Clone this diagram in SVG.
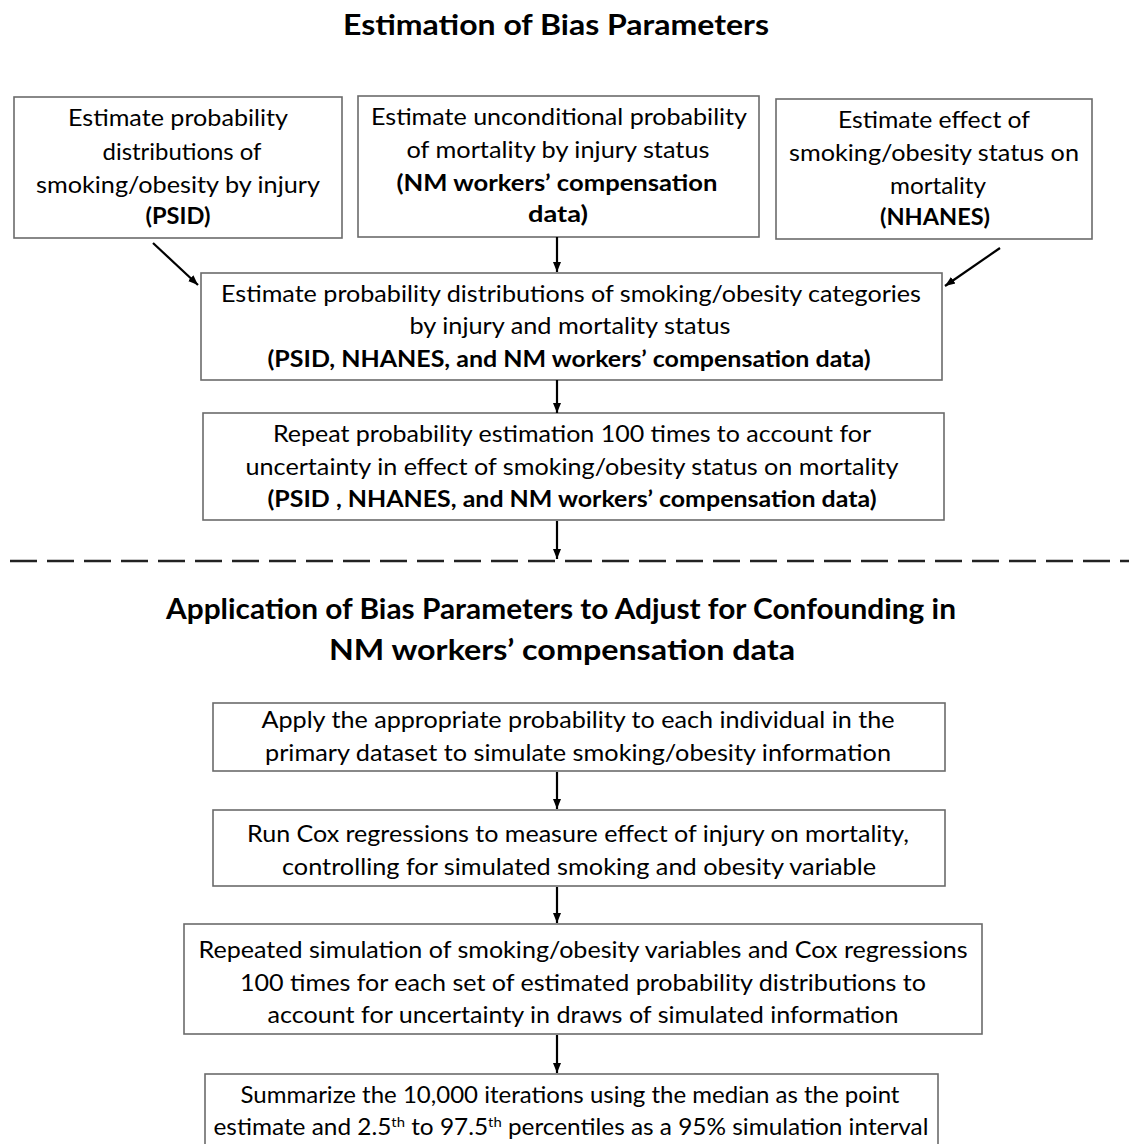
<svg xmlns="http://www.w3.org/2000/svg" width="1129" height="1144" viewBox="0 0 1129 1144">
<style>
.box{fill:#fff;stroke:#6b6b6b;stroke-width:1.6}
.t{font-family:Lato,"Open Sans","Liberation Sans",sans-serif;font-size:23px;fill:#000;text-anchor:middle}
.b{font-weight:bold}
.h{font-family:Lato,"Open Sans","Liberation Sans",sans-serif;font-weight:bold;font-size:28px;fill:#000;text-anchor:middle}
.c{stroke:#000;stroke-width:2.2;fill:none}
.sup{font-size:14px}
</style>
<defs>
<marker id="ah" markerUnits="userSpaceOnUse" markerWidth="10" markerHeight="10" viewBox="0 0 10 10" refX="10" refY="5" orient="auto">
<path d="M0,1 L10,5 L0,9 Z" fill="#000"/>
</marker>
</defs>
<rect width="1129" height="1144" fill="#fff"/>

<text class="h" x="556" y="35" textLength="426" lengthAdjust="spacingAndGlyphs">Estimation of Bias Parameters</text>

<g id="box1">
<rect class="box" x="14" y="97" width="328" height="141"/>
<text class="t" x="178" y="126" textLength="220" lengthAdjust="spacingAndGlyphs">Estimate probability</text>
<text class="t" x="182" y="160" textLength="159" lengthAdjust="spacingAndGlyphs">distributions of</text>
<text class="t" x="178" y="193" textLength="284" lengthAdjust="spacingAndGlyphs">smoking/obesity by injury</text>
<text class="t b" x="178" y="224" textLength="65" lengthAdjust="spacingAndGlyphs">(PSID)</text>
</g>

<g id="box2">
<rect class="box" x="358" y="96" width="401" height="141"/>
<text class="t" x="559" y="125" textLength="376" lengthAdjust="spacingAndGlyphs">Estimate unconditional probability</text>
<text class="t" x="558" y="158" textLength="303" lengthAdjust="spacingAndGlyphs">of mortality by injury status</text>
<text class="t b" x="557" y="191" textLength="321" lengthAdjust="spacingAndGlyphs">(NM workers’ compensation</text>
<text class="t b" x="558" y="222" textLength="60" lengthAdjust="spacingAndGlyphs">data)</text>
</g>

<g id="box3">
<rect class="box" x="776" y="99" width="316" height="140"/>
<text class="t" x="934" y="128" textLength="192" lengthAdjust="spacingAndGlyphs">Estimate effect of</text>
<text class="t" x="934" y="161" textLength="290" lengthAdjust="spacingAndGlyphs">smoking/obesity status on</text>
<text class="t" x="938" y="194" textLength="96" lengthAdjust="spacingAndGlyphs">mortality</text>
<text class="t b" x="935" y="225" textLength="110" lengthAdjust="spacingAndGlyphs">(NHANES)</text>
</g>

<g id="box4">
<rect class="box" x="201" y="273" width="741" height="107"/>
<text class="t" x="571" y="302" textLength="700" lengthAdjust="spacingAndGlyphs">Estimate probability distributions of smoking/obesity categories</text>
<text class="t" x="570" y="334" textLength="321" lengthAdjust="spacingAndGlyphs">by injury and mortality status</text>
<text class="t b" x="569" y="367" textLength="603" lengthAdjust="spacingAndGlyphs">(PSID, NHANES, and NM workers’ compensation data)</text>
</g>

<g id="box5">
<rect class="box" x="203" y="413" width="741" height="107"/>
<text class="t" x="572" y="442" textLength="598" lengthAdjust="spacingAndGlyphs">Repeat probability estimation 100 times to account for</text>
<text class="t" x="572" y="475" textLength="653" lengthAdjust="spacingAndGlyphs">uncertainty in effect of smoking/obesity status on mortality</text>
<text class="t b" x="572" y="507" textLength="609" lengthAdjust="spacingAndGlyphs">(PSID , NHANES, and NM workers’ compensation data)</text>
</g>

<line x1="10" y1="561" x2="1129" y2="561" stroke="#222" stroke-width="2.5" stroke-dasharray="27,10"/>

<text class="h" x="561" y="619" textLength="790" lengthAdjust="spacingAndGlyphs">Application of Bias Parameters to Adjust for Confounding in</text>
<text class="h" x="562" y="660" textLength="466" lengthAdjust="spacingAndGlyphs">NM workers’ compensation data</text>

<g id="box6">
<rect class="box" x="213" y="703" width="732" height="68"/>
<text class="t" x="578" y="728" textLength="633" lengthAdjust="spacingAndGlyphs">Apply the appropriate probability to each individual in the</text>
<text class="t" x="578" y="761" textLength="626" lengthAdjust="spacingAndGlyphs">primary dataset to simulate smoking/obesity information</text>
</g>

<g id="box7">
<rect class="box" x="213" y="810" width="732" height="76"/>
<text class="t" x="578" y="842" textLength="662" lengthAdjust="spacingAndGlyphs">Run Cox regressions to measure effect of injury on mortality,</text>
<text class="t" x="579" y="875" textLength="594" lengthAdjust="spacingAndGlyphs">controlling for simulated smoking and obesity variable</text>
</g>

<g id="box8">
<rect class="box" x="184" y="924" width="798" height="110"/>
<text class="t" x="583" y="958" textLength="769" lengthAdjust="spacingAndGlyphs">Repeated simulation of smoking/obesity variables and Cox regressions</text>
<text class="t" x="583" y="991" textLength="686" lengthAdjust="spacingAndGlyphs">100 times for each set of estimated probability distributions to</text>
<text class="t" x="583" y="1023" textLength="631" lengthAdjust="spacingAndGlyphs">account for uncertainty in draws of simulated information</text>
</g>

<g id="box9">
<rect class="box" x="205" y="1074" width="733" height="90"/>
<text class="t" x="570" y="1103" textLength="659" lengthAdjust="spacingAndGlyphs">Summarize the 10,000 iterations using the median as the point</text>
<text class="t" x="571" y="1135" textLength="715" lengthAdjust="spacingAndGlyphs">estimate and 2.5<tspan class="sup" dy="-8">th</tspan><tspan dy="8"> to 97.5</tspan><tspan class="sup" dy="-8">th</tspan><tspan dy="8"> percentiles as a 95% simulation interval</tspan></text>
</g>

<g id="connectors">
<line class="c" x1="153" y1="243" x2="198" y2="285" marker-end="url(#ah)"/>
<line class="c" x1="557" y1="237" x2="557" y2="272" marker-end="url(#ah)"/>
<line class="c" x1="1000" y1="248" x2="945" y2="286" marker-end="url(#ah)"/>
<line class="c" x1="557" y1="380" x2="557" y2="413" marker-end="url(#ah)"/>
<line class="c" x1="557" y1="521" x2="557" y2="559" marker-end="url(#ah)"/>
<line class="c" x1="557" y1="772" x2="557" y2="809" marker-end="url(#ah)"/>
<line class="c" x1="557" y1="887" x2="557" y2="923" marker-end="url(#ah)"/>
<line class="c" x1="557" y1="1035" x2="557" y2="1073" marker-end="url(#ah)"/>
</g>
</svg>
